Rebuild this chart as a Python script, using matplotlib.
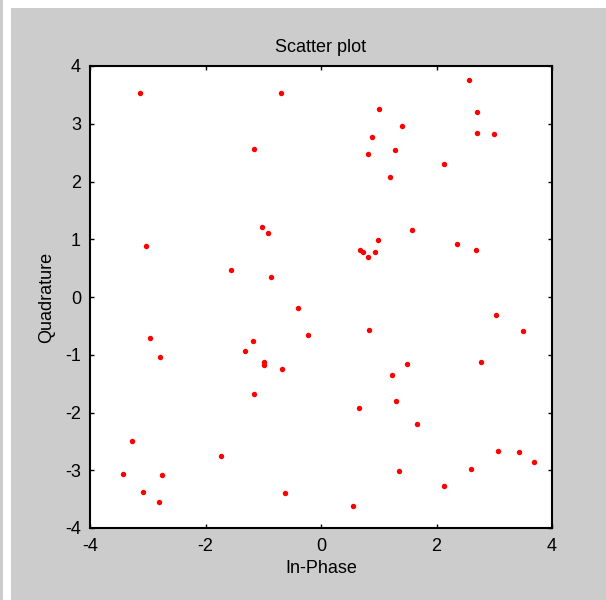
import matplotlib
matplotlib.use("Agg")
import matplotlib.pyplot as plt
from matplotlib.patches import Rectangle

# Received symbol coordinates
in_phase = [
    -3.134, -0.693, -1.166, -1.016, -0.918, -3.030, -1.558, -0.866,
    2.557, 1.004, 2.701, 1.397, 0.877, 2.701, 3.001, 1.276, 0.808, 2.136,
    1.195, 1.570, 0.981, 2.361, 2.678, 0.675, 0.722, 0.935, 0.808,
    -0.398, -0.225, -2.961, -2.788, -1.183, -1.310, -0.987, -0.987, -0.670,
    -1.160, -3.278, -1.732, -3.429, -2.759, -3.082, -2.811, -0.623,
    0.831, 3.025, 3.492, 2.776, 1.495, 1.224, 1.299, 0.658, 1.668,
    3.071, 3.434, 3.688, 2.603, 1.345, 2.136, 0.560,
]
quadrature = [
    3.527, 3.527, 2.563, 1.212, 1.114, 0.889, 0.473, 0.352,
    3.752, 3.261, 3.209, 2.961, 2.765, 2.840, 2.817, 2.545, 2.471, 2.298,
    2.073, 1.166, 0.993, 0.918, 0.819, 0.819, 0.774, 0.774, 0.698,
    -0.190, -0.664, -0.710, -1.033, -0.762, -0.935, -1.126, -1.183, -1.252,
    -1.674, -2.488, -2.758, -3.060, -3.082, -3.377, -3.550, -3.400,
    -0.566, -0.317, -0.589, -1.131, -1.160, -1.356, -1.795, -1.917, -2.193,
    -2.661, -2.684, -2.857, -2.978, -3.007, -3.278, -3.619,
]
ticks = [-4, -2, 0, 2, 4]
yticks = [-4, -3, -2, -1, 0, 1, 2, 3, 4]

W, H = 606, 600
fig = plt.figure(figsize=(W / 100, H / 100), dpi=100)
fig.patch.set_facecolor("white")

gray = "#cccccc"
# window background panels
fig.patches.append(Rectangle((0, 0), 3 / W, 1, transform=fig.transFigure,
                             facecolor=gray, edgecolor="none", zorder=-10))
fig.patches.append(Rectangle((11 / W, 0), 1 - 11 / W, 1 - 8 / H,
                             transform=fig.transFigure,
                             facecolor=gray, edgecolor="none", zorder=-10))

left, right, top, bottom = 90, 552, 66, 528
ax = fig.add_axes([left / W, 1 - bottom / H, (right - left) / W, (bottom - top) / H])
ax.set_facecolor("white")

ax.plot(in_phase, quadrature, linestyle="none", marker="o", markersize=3.9,
        color="red", markeredgewidth=0)

ax.set_xlim(-4, 4)
ax.set_ylim(-4, 4)
ax.set_xticks(ticks)
ax.set_yticks(yticks)

font = ["Liberation Sans", "DejaVu Sans"]
fs = 13
ax.set_xticklabels([str(t) for t in ticks], fontsize=fs, family=font)
ax.set_yticklabels([str(t) for t in yticks], fontsize=fs, family=font)
ax.tick_params(direction="in", length=3.2, width=1, top=True, right=True,
               colors="black")
ax.tick_params(axis="x", pad=7.5)
ax.tick_params(axis="y", pad=6.5)

for s in ax.spines.values():
    s.set_linewidth(1.5)
    s.set_color("black")

ax.set_title("Scatter plot", fontsize=fs, family=font, pad=10)
ax.set_xlabel("In-Phase", fontsize=fs, family=font, labelpad=3)
ax.set_ylabel("Quadrature", fontsize=fs, family=font, labelpad=7)

fig.savefig("out.png", dpi=100, facecolor=fig.get_facecolor())
